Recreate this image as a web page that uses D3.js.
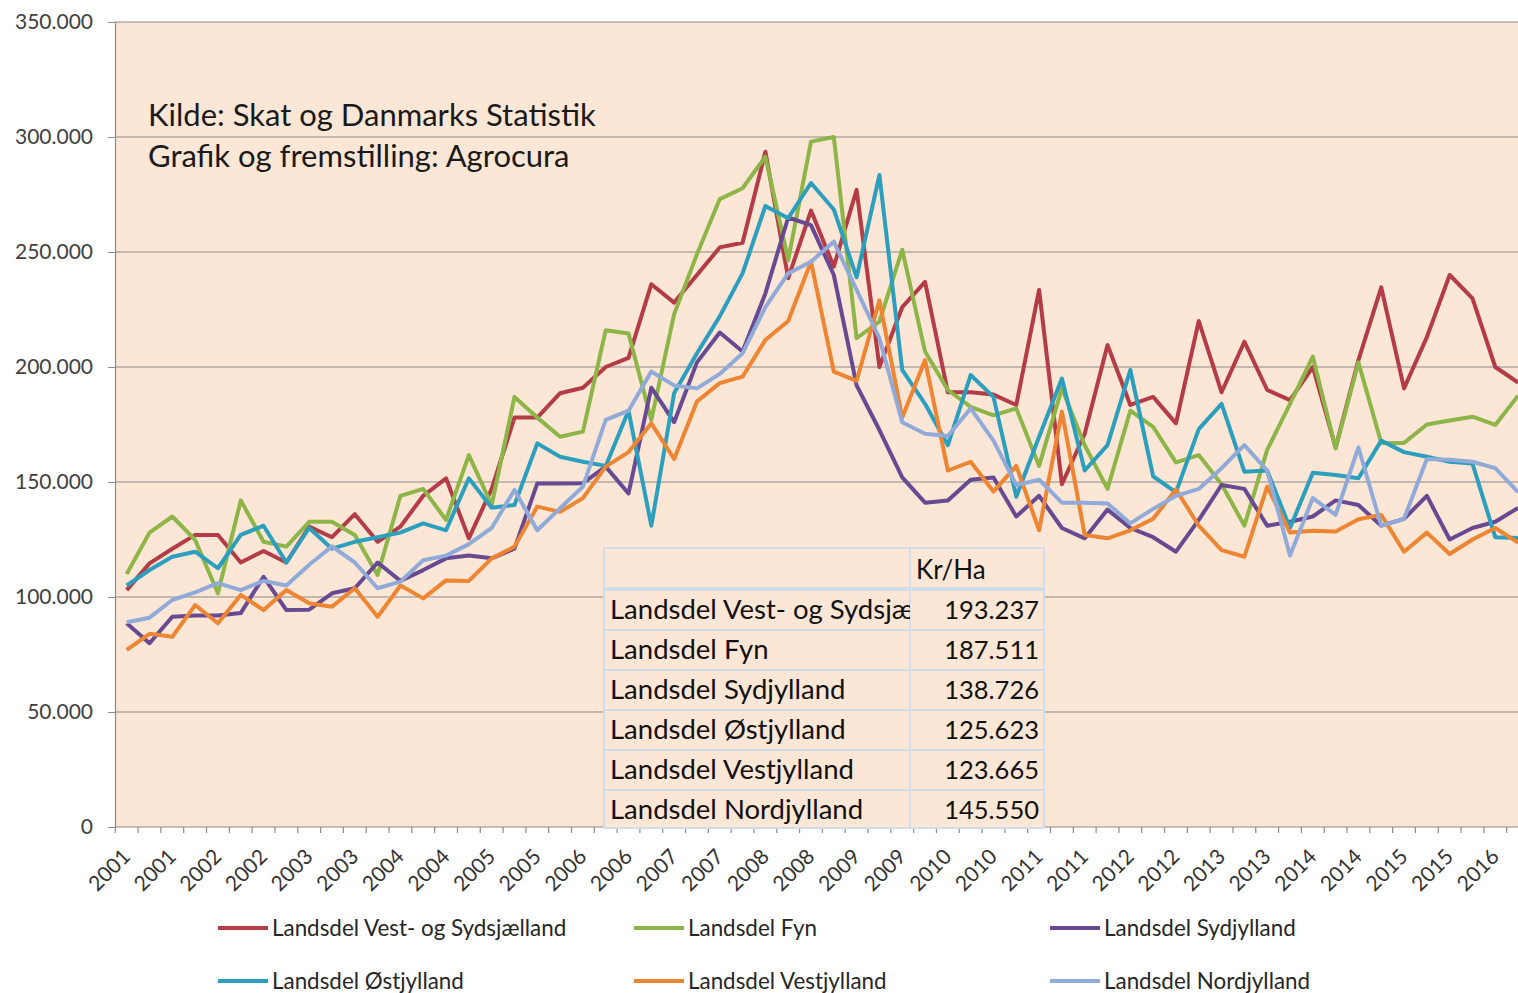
<!DOCTYPE html>
<html>
<head>
<meta charset="utf-8">
<script src="https://cdn.jsdelivr.net/npm/d3@7"></script>
<style>
  body { margin: 0; background: #fff; }
  svg { display: block; font-family: Lato, "Open Sans", sans-serif; }
</style>
</head>
<body>
<div id="chart"></div>
<script>
// kvartaler 2001K1 - 2016K2
const quarters = [
  "2001K1","2001K2","2001K3","2001K4","2002K1","2002K2","2002K3","2002K4",
  "2003K1","2003K2","2003K3","2003K4","2004K1","2004K2","2004K3","2004K4",
  "2005K1","2005K2","2005K3","2005K4","2006K1","2006K2","2006K3","2006K4",
  "2007K1","2007K2","2007K3","2007K4","2008K1","2008K2","2008K3","2008K4",
  "2009K1","2009K2","2009K3","2009K4","2010K1","2010K2","2010K3","2010K4",
  "2011K1","2011K2","2011K3","2011K4","2012K1","2012K2","2012K3","2012K4",
  "2013K1","2013K2","2013K3","2013K4","2014K1","2014K2","2014K3","2014K4",
  "2015K1","2015K2","2015K3","2015K4","2016K1","2016K2"
];

const seriesNames = [
  "Landsdel Vest- og Sydsjælland",
  "Landsdel Fyn",
  "Landsdel Sydjylland",
  "Landsdel Østjylland",
  "Landsdel Vestjylland",
  "Landsdel Nordjylland"
];

// tabellens første kolonne er for smal til det lange navn
const tableNames = [
  "Landsdel Vest- og Sydsjæ",
  "Landsdel Fyn",
  "Landsdel Sydjylland",
  "Landsdel Østjylland",
  "Landsdel Vestjylland",
  "Landsdel Nordjylland"
];

// kr/ha pr. kvartal
const vestSydsjaelland = [103000,114600,121000,127000,127000,115000,120000,115000,130600,126000,136000,124000,130600,144000,151600,125500,147000,178000,178000,188600,191000,200000,204000,236000,228000,240000,252000,254000,293600,238600,268000,243600,277000,200000,226000,237000,189000,189000,188000,183500,233500,149000,171000,209600,183500,187000,175500,220000,189000,211000,190000,185600,200000,165000,203000,234600,190700,213000,240000,229800,200000,193237];
const fyn = [110000,128000,135000,124800,101600,142000,124000,121900,132700,132700,127000,109600,144000,147000,133500,161700,140000,187000,178000,169700,171900,216000,214600,177000,223000,249000,273000,277700,291500,246500,298000,300000,212500,219700,251000,206700,190000,182700,179000,182000,157000,190700,166000,147000,181000,174000,158500,161700,149000,131000,164000,184000,204500,164600,202000,167000,167000,175000,176700,178400,174800,187511];
const sydjylland = [88600,79900,91400,92000,92000,93000,108800,94300,94500,101600,103800,115000,107000,111700,116800,118000,116800,121000,149400,149400,149500,156700,145000,191000,176000,202000,215000,206700,232000,265000,261700,240000,192000,172600,152000,141000,142000,151000,152000,135000,144000,130000,125500,138000,130000,126000,119700,133500,148700,147000,131000,132700,135000,142000,140000,131000,134000,144000,125000,130000,132700,138726];
const oestjylland = [105000,111700,117500,119700,112500,127000,131000,115000,130000,121000,124000,126000,128000,132000,129000,151600,138800,140000,166800,161000,158800,157000,181000,131000,188600,206000,222000,240700,270000,264700,280000,268500,239000,283500,198700,184000,166000,196500,187000,143600,169700,195000,155000,166000,198700,152500,145500,173000,184000,154500,155000,130000,154000,153000,151600,168000,163000,161000,158800,158000,126000,125623];
const vestjylland = [77000,84000,82700,96500,88600,100900,94300,103000,97300,95800,103800,91400,105000,99400,107200,107000,116800,121900,139300,137000,143000,156700,163000,175500,160000,185000,193000,195800,211700,220000,245800,198000,194000,229000,178000,203000,155000,158800,145800,157000,129000,180600,127000,125500,129000,134000,146800,131000,120400,117500,148000,128000,128800,128500,133800,135700,119700,128000,118700,125000,130000,123665];
const nordjylland = [89000,91000,98700,102000,106000,103000,107000,105000,114000,122000,115000,103800,106700,116000,118000,123000,130000,146500,129000,138600,148000,177000,181000,198000,192000,190700,197000,206000,226000,240700,245800,254500,233500,212500,176000,171000,170000,182000,168000,148700,151000,141000,141000,140700,132000,138300,144000,147000,156000,166000,155000,118000,143000,135700,165000,131000,134000,160000,159700,158800,156000,145550];

const yTicks = [0, 50000, 100000, 150000, 200000, 250000, 300000, 350000];
const colors = ["#B33C47", "#8DB548", "#674A92", "#2C9FBE", "#EE8532", "#90AAD9"];

const allSeries = [vestSydsjaelland, fyn, sydjylland, oestjylland, vestjylland, nordjylland];

const width = 1518, height = 993;
const dk = d3.formatLocale({ decimal: ",", thousands: ".", grouping: [3], currency: ["", " kr."] });
const fmt = dk.format(",");

const svg = d3.select("#chart").append("svg")
  .attr("width", width)
  .attr("height", height);

// akser
const x = d3.scaleBand().domain(quarters).range([115.3, 1529.5]);
const y = d3.scaleLinear().domain([0, 350000]).range([827, 22]);
const bw = x.bandwidth();

// plot baggrund
svg.append("rect")
  .attr("x", 115).attr("y", 22)
  .attr("width", x.range()[1] - 115).attr("height", 805)
  .attr("fill", "#FCE6D5");

// gitterlinjer
svg.append("g")
  .selectAll("line")
  .data(yTicks)
  .join("line")
  .attr("x1", 115).attr("x2", width)
  .attr("y1", d => y(d)).attr("y2", d => y(d))
  .attr("stroke", "#8C8C8C").attr("stroke-width", 1.2);

const yAxis = svg.append("g")
  .attr("transform", "translate(115,0)")
  .call(d3.axisLeft(y).tickValues(yTicks).tickSize(7).tickSizeOuter(0).tickPadding(15).tickFormat(fmt));
yAxis.select(".domain").attr("stroke", "#8C8C8C").attr("stroke-width", 1.2);
yAxis.selectAll(".tick line").attr("stroke", "#8C8C8C");
yAxis.selectAll("text").attr("font-size", 21).attr("fill", "#404040").attr("font-family", "Lato");

// x ticks ved kategorigrænser
svg.append("g")
  .selectAll("line")
  .data(quarters.concat(["end"]))
  .join("line")
  .attr("x1", (d, i) => x.range()[0] + i * x.step())
  .attr("x2", (d, i) => x.range()[0] + i * x.step())
  .attr("y1", 827).attr("y2", 833)
  .attr("stroke", "#8C8C8C").attr("stroke-width", 1.2);

svg.append("g")
  .selectAll("text")
  .data(quarters.filter((d, i) => i % 2 === 0))
  .join("text")
  .attr("transform", d => `translate(${x(d) + bw / 2 + 5},858) rotate(-45)`)
  .attr("text-anchor", "end")
  .attr("font-size", 21)
  .attr("fill", "#333")
  .text(d => d.slice(0, 4));

// linjer
const line = d3.line()
  .x((d, i) => x(quarters[i]) + bw / 2)
  .y(d => y(d));

svg.append("g")
  .selectAll("path")
  .data(allSeries)
  .join("path")
  .attr("d", line)
  .attr("fill", "none")
  .attr("stroke", (d, i) => colors[i])
  .attr("stroke-width", 4)
  .attr("stroke-linejoin", "round");

// kilde tekst
svg.append("text").attr("x", 148).attr("y", 126)
  .attr("font-size", 31).attr("fill", "#1a1a1a")
  .text("Kilde: Skat og Danmarks Statistik");
svg.append("text").attr("x", 148).attr("y", 167)
  .attr("font-size", 31).attr("fill", "#1a1a1a")
  .text("Grafik og fremstilling: Agrocura");

// tabel med seneste værdi
const table = svg.append("g");
const tBorder = "#D3DDE8";
svg.append("clipPath").attr("id", "col1")
  .append("rect").attr("x", 604).attr("y", 548).attr("width", 306).attr("height", 280);

table.append("rect")
  .attr("x", 604).attr("y", 548).attr("width", 440).attr("height", 280)
  .attr("fill", "#FCE6D5").attr("stroke", tBorder).attr("stroke-width", 2);
table.append("line").attr("x1", 910).attr("x2", 910).attr("y1", 548).attr("y2", 828)
  .attr("stroke", tBorder).attr("stroke-width", 2);
table.append("line").attr("x1", 604).attr("x2", 1044).attr("y1", 588).attr("y2", 588)
  .attr("stroke", tBorder).attr("stroke-width", 2);
table.selectAll(".rowline")
  .data(seriesNames)
  .join("line")
  .attr("x1", 604).attr("x2", 1044)
  .attr("y1", (d, i) => 590 + i * 40).attr("y2", (d, i) => 590 + i * 40)
  .attr("stroke", tBorder).attr("stroke-width", 2);

table.append("text").attr("x", 916).attr("y", 579)
  .attr("font-size", 26).attr("fill", "#111").text("Kr/Ha");

table.append("g").attr("clip-path", "url(#col1)")
  .selectAll("text")
  .data(tableNames)
  .join("text")
  .attr("x", 610).attr("y", (d, i) => 619 + i * 40)
  .attr("font-size", 27.5).attr("fill", "#111")
  .text(d => d);

table.append("g")
  .selectAll("text")
  .data(allSeries)
  .join("text")
  .attr("x", 1039).attr("y", (d, i) => 619 + i * 40)
  .attr("text-anchor", "end")
  .attr("font-size", 25.5).attr("fill", "#111")
  .text(d => fmt(d[d.length - 1]));

// legende
const legend = svg.append("g")
  .selectAll("g")
  .data(seriesNames)
  .join("g")
  .attr("transform", (d, i) => `translate(${218 + (i % 3) * 416},${i < 3 ? 928 : 981})`);
legend.append("line")
  .attr("x1", 0).attr("x2", 50)
  .attr("stroke", (d, i) => colors[i]).attr("stroke-width", 4);
legend.append("text")
  .attr("x", 54).attr("y", 8)
  .attr("font-size", 22.4).attr("fill", "#262626")
  .text(d => d);
</script>
</body>
</html>
